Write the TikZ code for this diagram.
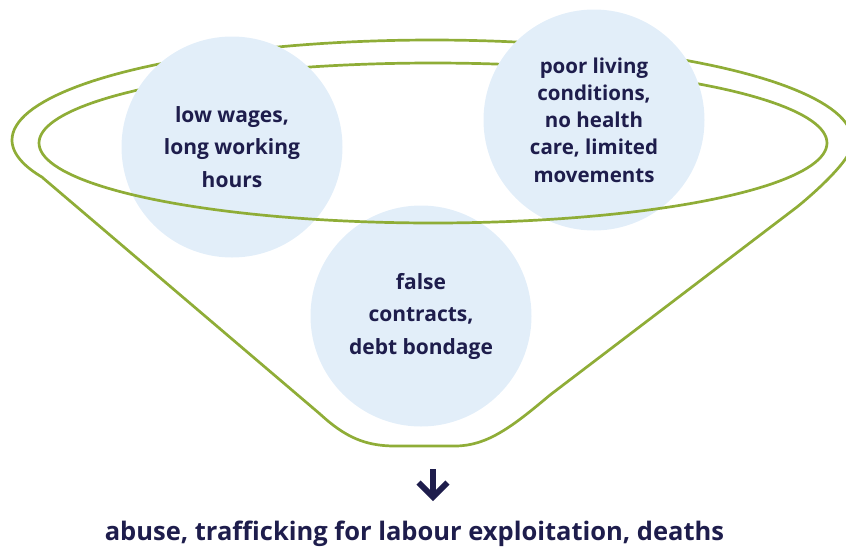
\documentclass[tikz,border=0pt]{standalone}
\usepackage{fontspec}
\setmainfont{Open Sans}
\usepackage{xcolor}
\usepackage{tikz}
\usetikzlibrary{positioning,calc}
\definecolor{funnelgreen}{HTML}{8FAD37}
\definecolor{bubbleblue}{HTML}{E2EEF9}
\definecolor{darknavy}{HTML}{1E1D4C}

\begin{document}
\begin{tikzpicture}[
    x=1pt, y=-1pt,
    funnel/.style={draw=funnelgreen, line width=2.7pt, line join=round},
    bubble/.style={circle, fill=bubbleblue, minimum size=221pt, inner sep=0pt, align=center, text=darknavy, font=\fontsize{21}{32.5}\selectfont\bfseries},
    smallbubble/.style={bubble, font=\fontsize{20.5}{27.3}\selectfont\bfseries},
    outcome/.style={font=\fontsize{25.5}{30}\selectfont\bfseries, text=darknavy, anchor=base},
    arrow/.style={draw=darknavy, line width=5.8pt, line join=miter}
]
    \useasboundingbox (0,0) rectangle (846,547);

    % ============================================================
    % FUNNEL: BACK HALF (behind the bubbles)
    % ============================================================
    \draw[funnel] plot[domain=180:360, samples=90] ({432+420*cos(\x)},{140+100*sin(\x)});
    \draw[funnel] plot[domain=180:360, samples=90] ({433+394*cos(\x)},{143+80*sin(\x)});

    % ============================================================
    % BUBBLES
    % ============================================================
    \node[bubble] (wages) at (232,147) {low wages,\\long working\\hours};
    \node[smallbubble] (living) at (594,120) {poor living\\conditions,\\no health\\care, limited\\movements};
    \node[bubble] (contracts) at (421,316) {false\\contracts,\\debt bondage};

    % ============================================================
    % FUNNEL: FRONT HALF (over the bubbles)
    % ============================================================
    \draw[funnel] plot[domain=0:180, samples=90] ({433+394*cos(\x)},{143+80*sin(\x)});
    \draw[funnel] plot[domain=0:4, samples=5] ({432+420*cos(\x)},{140+100*sin(\x)})
        .. controls (850,160) and (818,190) .. (797,207)
        -- (550,395) .. controls (512,427) and (487,446) .. (455,446)
        -- (395,446) .. controls (365,446) and (345,437) .. (320,414)
        -- (43,178)
        -- plot[domain=158:180, samples=20] ({432+420*cos(\x)},{140+100*sin(\x)});

    % ============================================================
    % OUTCOME
    % ============================================================
    \coordinate (arrow-top) at (433,469);
    \coordinate (arrow-tip) at (433,497);
    \node[outcome] (result) at (414.5,540) {abuse, trafficking for labour exploitation, deaths};

    \draw[arrow] (arrow-top) -- (arrow-tip);
    \draw[arrow] ($(arrow-tip)+(-14.5,-14.5)$) -- (arrow-tip) -- ($(arrow-tip)+(14.5,-14.5)$);

\end{tikzpicture}
\end{document}
